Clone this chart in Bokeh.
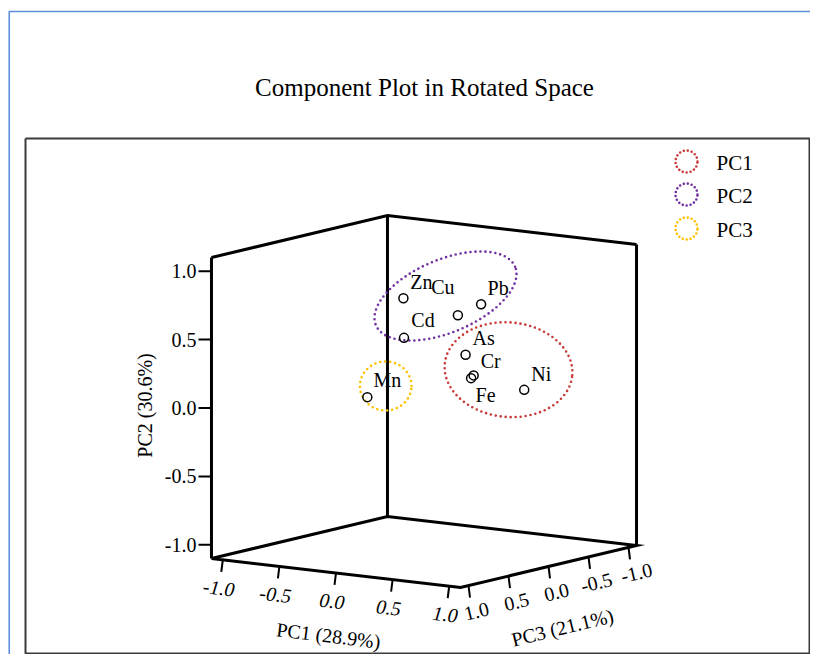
import numpy as np
from bokeh.plotting import figure
from bokeh.models import Range1d, ColumnDataSource
from bokeh.core.properties import value
from bokeh.embed import file_html
from bokeh.resources import INLINE

# ---------------- data (rotated component loadings) ----------------
elements = ["Zn", "Cu", "Pb", "Cd", "As", "Cr", "Fe", "Ni", "Mn"]
pc1 = [0.03, 0.37, 0.54, 0.00, 0.65, 0.70, 0.72, 0.85, 0.10]
pc2 = [0.80, 0.68, 0.77, 0.50, 0.46, 0.31, 0.30, 0.16, 0.16]
pc3 = [0.30, 0.10, 0.05, 0.25, 0.40, 0.37, 0.43, -0.05, 0.85]
tick_values = [-1.0, -0.5, 0.0, 0.5, 1.0]
tick_labels = ["-1.0", "-0.5", "0.0", "0.5", "1.0"]
title_pc1 = "PC1 (28.9%)"
title_pc2 = "PC2 (30.6%)"
title_pc3 = "PC3 (21.1%)"
legend_labels = ["PC1", "PC2", "PC3"]
chart_title = "Component Plot in Rotated Space"

# ---------------- style / layout ----------------
FONT = value("Liberation Serif")
COL_PC1 = "#C83A3A"
COL_PC2 = "#7030A0"
COL_PC3 = "#FFC000"
legend_colors = [COL_PC1, COL_PC2, COL_PC3]

# oblique projection of the 3D box onto the page (pixel coords)
OX, OY = 423.5, 401.0
AX, CX = 113.2, 13.18     # PC1 direction
AZ, CZ = -80.0, 19.09     # PC3 direction
BY = 136.8                # PC2 direction
L = 1.1                   # half size of the box


def proj(x, y, z):
    x = np.asarray(x, dtype=float)
    y = np.asarray(y, dtype=float)
    z = np.asarray(z, dtype=float)
    return OX + AX * x + AZ * z, OY - BY * y + CX * x + CZ * z


p = figure(width=810, height=654,
           x_range=Range1d(0, 810), y_range=Range1d(654, 0),
           output_backend="svg", toolbar_location=None,
           x_axis_location=None, y_axis_location=None,
           min_border=0, outline_line_color=None,
           background_fill_color="white", border_fill_color="white")
p.xgrid.visible = False
p.ygrid.visible = False

# outer blue border and inner frame
p.line([8.75, 8.75, 810], [654, 11, 11], line_color="#5B8FD9", line_width=1.6)
p.line([25, 809, 809, 25, 25], [138, 138, 653, 653, 138],
       line_color="#3A3A3A", line_width=2)

# title
p.text(x=[424], y=[87], text=[chart_title], text_font=FONT,
       text_font_size="25px", text_align="center", text_baseline="middle",
       text_color="black")

# ---------------- the box ----------------
edges3d = [
    [(-L, -L, L), (-L, L, L)],
    [(-L, -L, -L), (-L, L, -L)],
    [(L, -L, -L), (L, L, -L)],
    [(-L, L, L), (-L, L, -L), (L, L, -L)],
    [(-L, -L, L), (L, -L, L), (L, -L, -L), (-L, -L, -L), (-L, -L, L)],
]
xs, ys = [], []
for e in edges3d:
    a = np.array(e)
    sx, sy = proj(a[:, 0], a[:, 1], a[:, 2])
    xs.append(list(sx))
    ys.append(list(sy))
p.multi_line(xs, ys, line_color="black", line_width=3, line_join="miter")

# ---------------- ticks ----------------
tv = np.array(tick_values)
n = len(tv)
# PC2 on the left front edge
sx2, sy2 = proj(np.full(n, -L), tv, np.full(n, L))
p.multi_line([[a, a - 13] for a in sx2], [[b, b] for b in sy2],
             line_color="black", line_width=2)
p.text(x=list(sx2 - 15), y=list(sy2), text=tick_labels, text_font=FONT,
       text_font_size="20px", text_align="right", text_baseline="middle")
# PC1 along the front-left floor edge
sx1, sy1 = proj(tv, np.full(n, -L), np.full(n, L))
p.multi_line([[a, a - 1.5] for a in sx1], [[b, b + 12] for b in sy1],
             line_color="black", line_width=2)
p.text(x=list(sx1 - 4), y=list(sy1 + 28), text=tick_labels, text_font=FONT,
       text_font_size="20px", text_font_style="italic", text_align="center",
       text_baseline="middle", angle=-0.115)
# PC3 along the front-right floor edge
sx3, sy3 = proj(np.full(n, L), np.full(n, -L), tv)
p.multi_line([[a, a + 1.5] for a in sx3], [[b, b + 12] for b in sy3],
             line_color="black", line_width=2)
p.text(x=list(sx3 + 8), y=list(sy3 + 25.5), text=tick_labels, text_font=FONT,
       text_font_size="20px", text_align="center", text_baseline="middle",
       angle=0.234)

# axis titles
tx, ty = proj([0.0], [-L], [L])
p.text(x=[tx[0] - 7.5], y=[ty[0] + 62.5], text=[title_pc1], text_font=FONT,
       text_font_size="20px", text_align="center", text_baseline="middle",
       angle=-0.12)
tx, ty = proj([L], [-L], [0.0])
p.text(x=[tx[0] + 14], y=[ty[0] + 61], text=[title_pc3], text_font=FONT,
       text_font_size="20px", text_align="center", text_baseline="middle",
       angle=0.24)
tx, ty = proj([-L], [0.0], [L])
p.text(x=[tx[0] - 66], y=[ty[0] - 2.5], text=[title_pc2], text_font=FONT,
       text_font_size="20px", text_align="center", text_baseline="middle",
       angle=np.pi / 2)

# ---------------- dotted group ellipses (annotations) ----------------
def ellipse_path(cx, cy, a, b, deg, npts=240):
    t = np.linspace(0, 2 * np.pi, npts)
    th = np.deg2rad(deg)
    ex = cx + a * np.cos(t) * np.cos(th) - b * np.sin(t) * np.sin(th)
    ey = cy - (a * np.cos(t) * np.sin(th) + b * np.sin(t) * np.cos(th))
    return list(ex), list(ey)

for (cx, cy, a, b, deg, col) in [
        (508.0, 369.2, 64.0, 47.3, -5.0, COL_PC1),
        (445.0, 295.5, 75.5, 36.4, 22.8, COL_PC2),
        (385.2, 385.5, 25.8, 24.5, 0.0, COL_PC3)]:
    ex, ey = ellipse_path(cx, cy, a, b, deg)
    p.line(ex, ey, line_color=col, line_width=2.6, line_dash="0 5",
           line_cap="round")

# ---------------- points and labels ----------------
px, py = proj(pc1, pc2, pc3)
label_dx = [18, -15, 17, 19, 18, 17, 14.5, 17, 20]
label_dy = [-16, -28, -16, -18, -17, -14, 17, -16, -17]
src = ColumnDataSource(dict(x=px, y=py, lx=px + np.array(label_dx),
                            ly=py + np.array(label_dy), name=elements))
p.scatter("x", "y", source=src, marker="circle", size=9, fill_color=None,
          line_color="black", line_width=1.5)
p.text("lx", "ly", text="name", source=src, text_font=FONT,
       text_font_size="20px", text_align="center", text_baseline="middle")

# ---------------- legend ----------------
legend_y = [161, 194, 228]
for yy, col, lab in zip(legend_y, legend_colors, legend_labels):
    ex, ey = ellipse_path(686, yy, 11, 11, 0)
    p.line(ex, ey, line_color=col, line_width=2.6, line_dash="0 4",
           line_cap="round")
    p.text(x=[716], y=[yy + 1], text=[lab], text_font=FONT,
           text_font_size="21px", text_align="left", text_baseline="middle")

open("out.html", "w").write(file_html(p, INLINE))
